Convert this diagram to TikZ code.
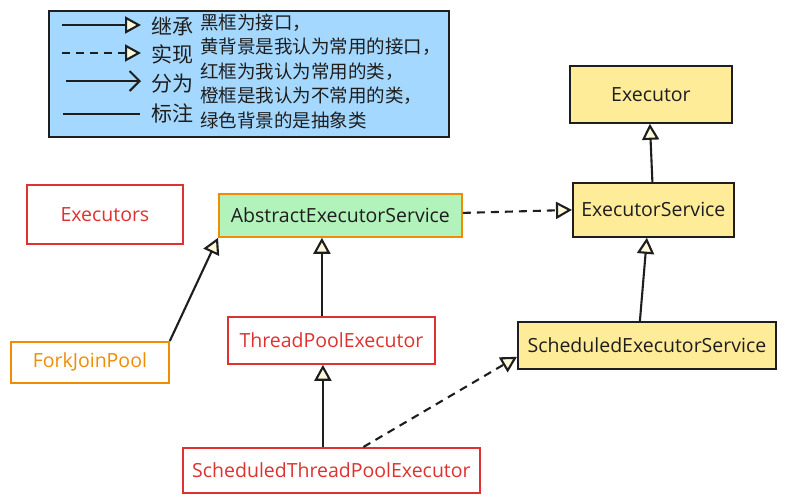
\documentclass[tikz,border=0pt]{standalone}
\usepackage{fontspec}
\setmainfont{Open Sans}
\newfontfamily\cjk{Noto Sans CJK SC}
\usetikzlibrary{arrows.meta}
\definecolor{dk}{HTML}{1E1E1E}
\definecolor{lblue}{HTML}{A5D8FF}
\definecolor{yel}{HTML}{FFEC99}
\definecolor{grn}{HTML}{B2F2BB}
\definecolor{org}{HTML}{F08C00}
\definecolor{rd}{HTML}{E03131}
\definecolor{cream}{HTML}{FFF9DB}
\tikzset{
  box/.style={draw, line width=1.8pt, inner sep=0pt, font=\fontsize{19.5}{23}\selectfont, anchor=north west},
  iface/.style={box, draw=dk, fill=yel, text=dk},
  abs/.style={box, draw=org, fill=grn, text=dk},
  cls/.style={box, draw=rd, fill=white, text=rd},
  ocls/.style={box, draw=org, fill=white, text=org},
  inh/.style={draw=dk, line width=2.1pt, -{Triangle[open, length=16pt, width=17pt, fill=cream]}},
  impl/.style={inh, dash pattern=on 8pt off 6pt},
  part/.style={draw=dk, line width=2.1pt, -{Straight Barb[length=10pt, width=20pt]}},
  plain/.style={draw=dk, line width=2.1pt},
  lg/.style={font=\cjk\fontsize{18.5}{22}\selectfont, text=dk, inner sep=0pt},
  lgb/.style={font=\cjk\fontsize{21}{24}\selectfont, text=dk, inner sep=0pt},
}
\begin{document}
\begin{tikzpicture}[x=1pt,y=-1pt]
\useasboundingbox (0,0) rectangle (785,501);
\fill[white] (0,0) rectangle (785,501);
% legend
\node[draw=dk, fill=lblue, line width=1.6pt, minimum width=400pt, minimum height=126pt, anchor=north west, inner sep=0pt] (legend) at (48,10) {};
\coordinate (l1a) at (62,25); \coordinate (l1b) at (141,25);
\coordinate (l2a) at (62,53); \coordinate (l2b) at (141,53);
\coordinate (l3a) at (66,81); \coordinate (l3b) at (141,81);
\coordinate (l4a) at (63,114); \coordinate (l4b) at (140,114);
\draw[inh] (l1a) -- (l1b);
\draw[impl] (l2a) -- (l2b);
\draw[part] (l3a) -- (l3b);
\draw[plain] (l4a) -- (l4b);
\node[lgb] (t1) at (172,26) {继承};
\node[lgb] (t2) at (172,54) {实现};
\node[lgb] (t3) at (172,84) {分为};
\node[lgb] (t4) at (172,113) {标注};
\node[lg, anchor=west] (r1) at (200,23) {黑框为接口，};
\node[lg, anchor=west] (r2) at (200,47) {黄背景是我认为常用的接口，};
\node[lg, anchor=west] (r3) at (200,72) {红框为我认为常用的类，};
\node[lg, anchor=west] (r4) at (200,96) {橙框是我认为不常用的类，};
\node[lg, anchor=west] (r5) at (200,120) {绿色背景的是抽象类};
% nodes
\node[iface, minimum width=162pt, minimum height=57pt] (ex) at (569,65) {Executor};
\node[iface, minimum width=161pt, minimum height=54pt] (es) at (572,182) {ExecutorService};
\node[abs, minimum width=243pt, minimum height=43pt] (aes) at (218,193) {AbstractExecutorService};
\node[cls, minimum width=156pt, minimum height=59pt] (exs) at (26,184) {Executors};
\node[ocls, minimum width=158pt, minimum height=41pt] (fjp) at (10,341) {ForkJoinPool};
\node[cls, minimum width=207pt, minimum height=47pt] (tpe) at (227,316) {ThreadPoolExecutor};
\node[iface, minimum width=258pt, minimum height=47pt] (ses) at (517,321) {ScheduledExecutorService};
\node[cls, minimum width=297pt, minimum height=45pt] (stpe) at (182,447) {ScheduledThreadPoolExecutor};
% connectors
\draw[inh] ([xshift=-1pt]es.north) -- ([xshift=-1pt]ex.south);
\draw[impl] ([yshift=2.5pt]aes.east) -- ([yshift=0pt]es.west);
\draw[inh] ([xshift=-7pt]ses.north) -- ([xshift=-6.5pt]es.south);
\draw[inh] ([xshift=-9.5pt]tpe.north) -- ([xshift=-18.5pt]aes.south);
\draw[inh] (fjp.north east) -- (aes.south west);
\draw[inh] ([xshift=-8.5pt]stpe.north) -- ([xshift=-8.5pt]tpe.south);
\draw[impl] ([xshift=32pt]stpe.north) -- ([yshift=13pt]ses.south west);
\end{tikzpicture}
\end{document}
